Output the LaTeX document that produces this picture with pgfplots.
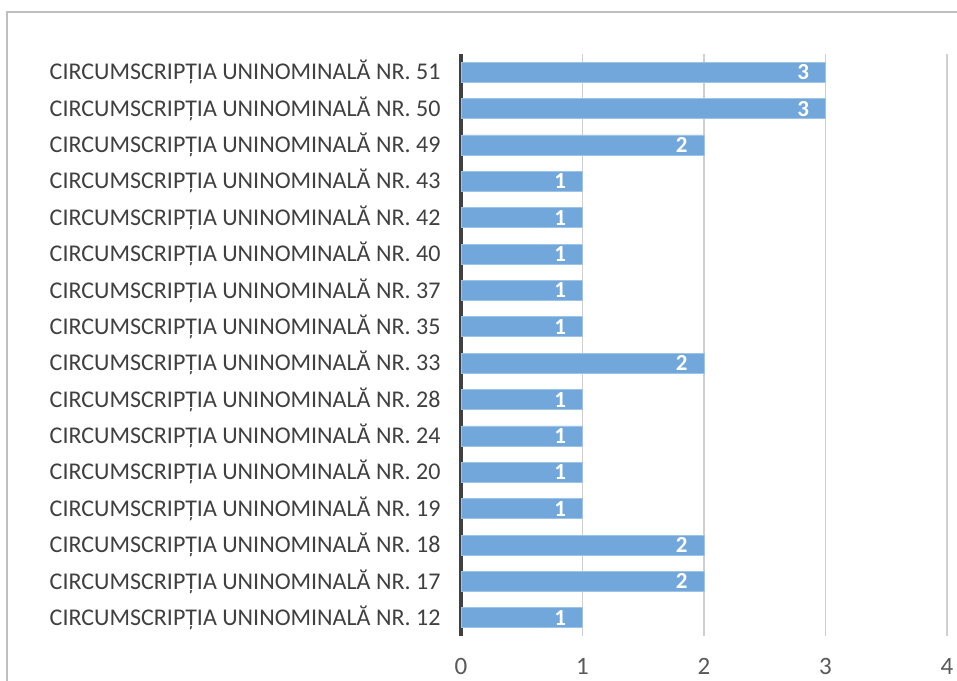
\documentclass[border=0pt]{standalone}
\usepackage{fontspec}
\setmainfont{Carlito}
\usepackage{pgfplots}
\pgfplotsset{compat=1.18}
\definecolor{barblue}{HTML}{71A7DB}
\definecolor{baredge}{HTML}{9DC3E6}
\definecolor{gridgray}{HTML}{CFCFCF}
\definecolor{labgray}{HTML}{404040}
\definecolor{tickgray}{HTML}{595959}
\definecolor{framegray}{HTML}{BFBFBF}
\begin{document}
\begin{tikzpicture}[x=1pt,y=1pt]
\fill[white] (0,0) rectangle (957,680);
\draw[framegray, line width=2.2pt] (7,-30) -- (7,668) -- (990,668);
\begin{axis}[
  at={(461pt,44pt)}, anchor=south west,
  scale only axis, width=486pt, height=582pt,
  xmin=0, xmax=4, ymin=-0.5, ymax=15.5,
  xbar, bar width=20pt,
  xtick={0,1,2,3,4}, ytick={0,...,15},
  yticklabels={
    CIRCUMSCRIPȚIA UNINOMINALĂ NR. 12,
    CIRCUMSCRIPȚIA UNINOMINALĂ NR. 17,
    CIRCUMSCRIPȚIA UNINOMINALĂ NR. 18,
    CIRCUMSCRIPȚIA UNINOMINALĂ NR. 19,
    CIRCUMSCRIPȚIA UNINOMINALĂ NR. 20,
    CIRCUMSCRIPȚIA UNINOMINALĂ NR. 24,
    CIRCUMSCRIPȚIA UNINOMINALĂ NR. 28,
    CIRCUMSCRIPȚIA UNINOMINALĂ NR. 33,
    CIRCUMSCRIPȚIA UNINOMINALĂ NR. 35,
    CIRCUMSCRIPȚIA UNINOMINALĂ NR. 37,
    CIRCUMSCRIPȚIA UNINOMINALĂ NR. 40,
    CIRCUMSCRIPȚIA UNINOMINALĂ NR. 42,
    CIRCUMSCRIPȚIA UNINOMINALĂ NR. 43,
    CIRCUMSCRIPȚIA UNINOMINALĂ NR. 49,
    CIRCUMSCRIPȚIA UNINOMINALĂ NR. 50,
    CIRCUMSCRIPȚIA UNINOMINALĂ NR. 51},
  /pgf/number format/assume math mode=true,
  major tick length=0pt,
  xmajorgrids, major grid style={gridgray, line width=1.6pt},
  axis lines=left, axis line style={-},
  x axis line style={draw=none},
  y axis line style={labgray, line width=3.2pt},
  yticklabel style={font=\fontsize{24}{28}\selectfont, text=labgray, xshift=-17pt},
  xticklabel style={font=\fontsize{25}{29}\selectfont, text=tickgray, yshift=-19pt},
  nodes near coords,
  nodes near coords style={anchor=east, text=white, font=\fontsize{23}{27}\selectfont\bfseries, xshift=-16pt, inner sep=0pt},
]
\addplot[fill=barblue, draw=baredge, line width=0.8pt] coordinates {
  (1,0) (2,1) (2,2) (1,3) (1,4) (1,5) (1,6) (2,7)
  (1,8) (1,9) (1,10) (1,11) (1,12) (2,13) (3,14) (3,15)
};
\end{axis}
\pgfresetboundingbox
\path[use as bounding box] (0,0) rectangle (957,680);
\end{tikzpicture}
\end{document}
